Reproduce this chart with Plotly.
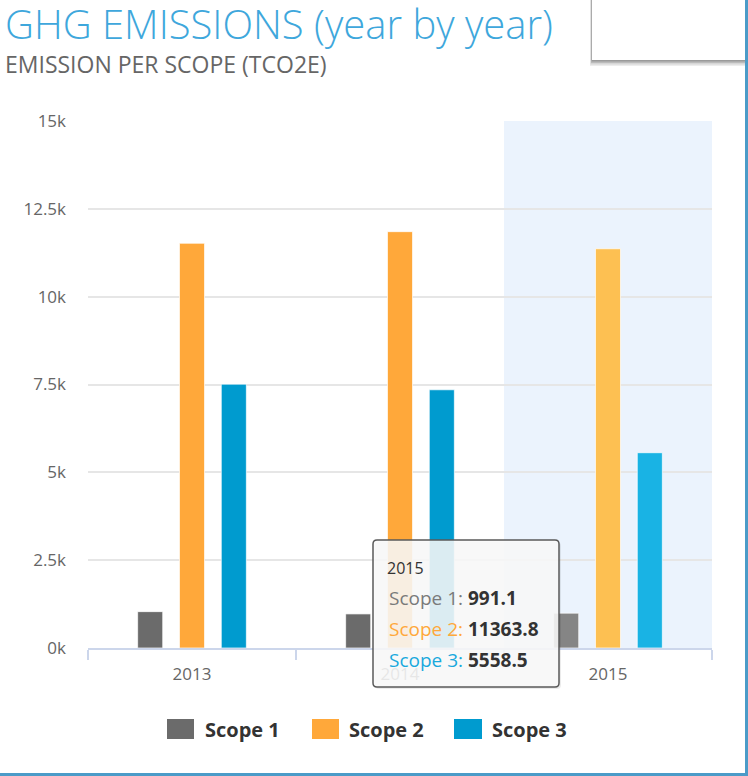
import plotly.graph_objects as go

# ---------------- data ----------------
years = ["2013", "2014", "2015"]
series_names = ["Scope 1", "Scope 2", "Scope 3"]
scope1 = [1035, 970, 991.1]
scope2 = [11520, 11850, 11363.8]
scope3 = [7510, 7350, 5558.5]
y_tickvals = [0, 2500, 5000, 7500, 10000, 12500, 15000]
y_ticktext = ["0k", "2.5k", "5k", "7.5k", "10k", "12.5k", "15k"]
hover_year = "2015"

# ---------------- style ----------------
W, H = 748, 776
ML, MR, MT, MB = 88, 36, 121, 128
PW, PH = W - ML - MR, H - MT - MB
FONT = "Open Sans"
base_colors = ["#6b6b6b", "#ffa83a", "#009bcf"]
hover_colors = ["#858585", "#fdc052", "#19b3e4"]
label_colors = ["#7a7a7a", "#ffa83a", "#19a9dd"]


def px(xp):
    return (xp - ML) / PW


def py(yp):
    return (H - MB - yp) / PH


fig = go.Figure()
hidx = years.index(hover_year)
for name, vals, c0, c1 in zip(series_names, [scope1, scope2, scope3], base_colors, hover_colors):
    fig.add_trace(go.Bar(
        x=years, y=vals, name=name,
        marker=dict(color=[c1 if i == hidx else c0 for i in range(len(years))],
                    line=dict(color="rgba(255,255,255,0.7)", width=1)),
        showlegend=False, hoverinfo="skip",
    ))

shapes = []
annotations = []

# hover band for 2015
shapes.append(dict(type="rect", xref="x", yref="paper", x0=hidx - 0.5, x1=hidx + 0.5, y0=0, y1=1,
                   fillcolor="#ebf3fd", line=dict(width=0), layer="below"))

# frame borders (right & bottom)
shapes.append(dict(type="line", xref="paper", yref="paper", x0=px(746.5), x1=px(746.5), y0=py(0), y1=py(775),
                   line=dict(color="#4b9bc8", width=3)))
shapes.append(dict(type="line", xref="paper", yref="paper", x0=px(0), x1=px(748), y0=py(774.5), y1=py(774.5),
                   line=dict(color="#4b9bc8", width=3)))

# top-right white box with shadow
for i, a in enumerate([0.10, 0.14, 0.20, 0.30]):
    off = 6 - i * 1.5
    shapes.append(dict(type="rect", xref="paper", yref="paper", x0=px(592 - off / 3), x1=px(745),
                       y0=py(60 + off), y1=py(0), fillcolor=f"rgba(80,80,80,{a})", line=dict(width=0)))
shapes.append(dict(type="rect", xref="paper", yref="paper", x0=px(592), x1=px(745), y0=py(60), y1=py(-2),
                   fillcolor="white", line=dict(width=0)))


# tooltip box (rounded)
def rrect(x0, y0, x1, y1, r):
    return (f"M {px(x0 + r)},{py(y0)} L {px(x1 - r)},{py(y0)} Q {px(x1)},{py(y0)} {px(x1)},{py(y0 + r)} "
            f"L {px(x1)},{py(y1 - r)} Q {px(x1)},{py(y1)} {px(x1 - r)},{py(y1)} "
            f"L {px(x0 + r)},{py(y1)} Q {px(x0)},{py(y1)} {px(x0)},{py(y1 - r)} "
            f"L {px(x0)},{py(y0 + r)} Q {px(x0)},{py(y0)} {px(x0 + r)},{py(y0)} Z")


tx0, ty0, tx1, ty1 = 373, 540, 559, 687
shapes.append(dict(type="path", xref="paper", yref="paper", path=rrect(tx0 + 2, ty0 + 2, tx1 + 2, ty1 + 2, 4),
                   fillcolor="rgba(0,0,0,0.08)", line=dict(width=0), layer="above"))
shapes.append(dict(type="path", xref="paper", yref="paper", path=rrect(tx0, ty0, tx1, ty1, 4),
                   fillcolor="rgba(249,249,249,0.88)", line=dict(color="#5a5a5a", width=1.5), layer="above"))

annotations.append(dict(xref="paper", yref="paper", x=px(385), y=py(568), xanchor="left", yanchor="middle",
                        text=hover_year, showarrow=False, font=dict(family=FONT, size=16, color="#333333")))
for k, (name, vals) in enumerate(zip(series_names, [scope1, scope2, scope3])):
    annotations.append(dict(
        xref="paper", yref="paper", x=px(387), y=py(598 + 31 * k), xanchor="left", yanchor="middle",
        text=f"<span style='color:{label_colors[k]}'>{name}: </span><b>{vals[hidx]}</b>",
        showarrow=False, font=dict(family=FONT, size=19, color="#333333")))

# title and subtitle
annotations.append(dict(xref="paper", yref="paper", x=px(3), y=py(24), xanchor="left", yanchor="middle",
                        text="GHG EMISSIONS (year by year)", showarrow=False,
                        font=dict(family=FONT, size=40, color="#3ea7dc", weight=300)))
annotations.append(dict(xref="paper", yref="paper", x=px(3), y=py(64), xanchor="left", yanchor="middle",
                        text="EMISSION PER SCOPE (TCO2E)", showarrow=False,
                        font=dict(family=FONT, size=23, color="#666666")))

# custom legend
legend_sq = [(167, 194), (312, 339), (454, 482)]
legend_tx = [203, 347, 490]
for k, name in enumerate(series_names):
    shapes.append(dict(type="rect", xref="paper", yref="paper", x0=px(legend_sq[k][0]), x1=px(legend_sq[k][1]),
                       y0=py(739), y1=py(719), fillcolor=base_colors[k], line=dict(width=0)))
    annotations.append(dict(xref="paper", yref="paper", x=px(legend_tx[k]), y=py(729), xanchor="left",
                            yanchor="middle", text=f"<b>{name}</b>", showarrow=False,
                            font=dict(family=FONT, size=20, color="#333333")))

fig.update_layout(
    width=W, height=H, autosize=False,
    margin=dict(l=ML, r=MR, t=MT, b=MB, pad=0),
    paper_bgcolor="white", plot_bgcolor="rgba(0,0,0,0)",
    barmode="group", bargap=0.397, bargroupgap=0.40,
    font=dict(family=FONT, color="#666666"),
    shapes=shapes, annotations=annotations, showlegend=False,
    xaxis=dict(type="category", showline=True, linecolor="#ccd6eb", linewidth=1.5,
               ticks="outside", tickson="boundaries", ticklen=10, tickcolor="#ccd6eb", tickwidth=1.5,
               showgrid=False, tickfont=dict(family=FONT, size=17, color="#666666"), ticklabelstandoff=10),
    yaxis=dict(range=[0, 15000], tickvals=y_tickvals, ticktext=y_ticktext, showgrid=True,
               gridcolor="#e6e6e6", gridwidth=1.5, zeroline=False, showline=False,
               tickfont=dict(family=FONT, size=17, color="#666666"), ticklabelstandoff=21),
)

fig.write_html("out.html", config={"displayModeBar": False},
               post_script="document.body.style.margin='0';")
